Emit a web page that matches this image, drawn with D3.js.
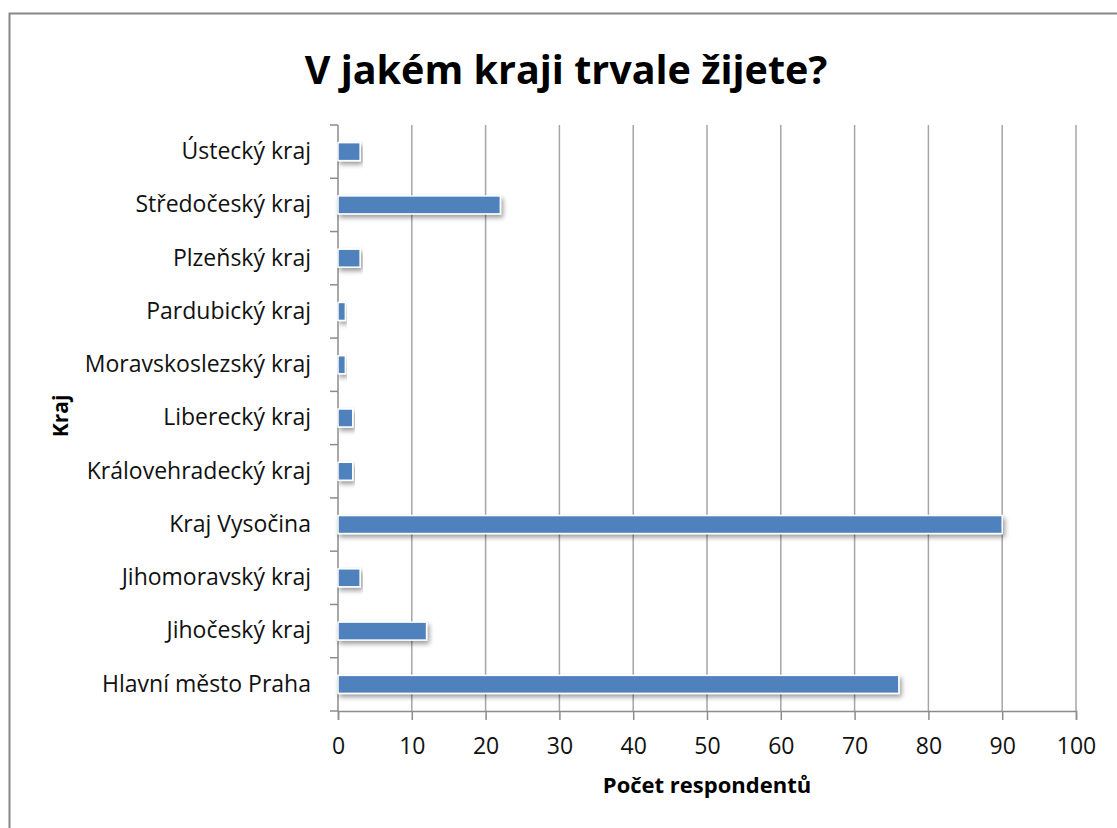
<!DOCTYPE html>
<html>
<head>
<meta charset="utf-8">
<script src="https://cdn.jsdelivr.net/npm/d3@7"></script>
<style>
  body { margin: 0; background: #fff; }
  svg text { font-family: "Open Sans", Lato, sans-serif; }
</style>
</head>
<body>
<svg width="1117" height="828"></svg>
<script>
// data, bottom to top as in the chart
var regions = ["Hlavní město Praha", "Jihočeský kraj", "Jihomoravský kraj", "Kraj Vysočina",
  "Královehradecký kraj", "Liberecký kraj", "Moravskoslezský kraj", "Pardubický kraj",
  "Plzeňský kraj", "Středočeský kraj", "Ústecký kraj"];
var counts = [76, 12, 3, 90, 2, 2, 1, 1, 3, 22, 3];
var xTicks = [0, 10, 20, 30, 40, 50, 60, 70, 80, 90, 100];

var svg = d3.select("svg"),
  width = +svg.attr("width"),
  height = +svg.attr("height");

// plot area
var pLeft = 338, pRight = 1076, pTop = 125, pBottom = 711;

var defs = svg.append("defs");
var f = defs.append("filter").attr("id", "shadow")
  .attr("x", "-5%").attr("y", "-30%").attr("width", "115%").attr("height", "190%");
f.append("feGaussianBlur").attr("in", "SourceAlpha").attr("stdDeviation", 2.5);
f.append("feOffset").attr("dx", 2).attr("dy", 3).attr("result", "b");
f.append("feComponentTransfer").append("feFuncA").attr("type", "linear").attr("slope", 0.4);
var m = f.append("feMerge");
m.append("feMergeNode");
m.append("feMergeNode").attr("in", "SourceGraphic");

// outer frame
svg.append("rect")
  .attr("x", 9.5).attr("y", 13.5)
  .attr("width", 1200).attr("height", 900)
  .attr("fill", "none").attr("stroke", "#888").attr("stroke-width", 2);

var x = d3.scaleLinear().domain([0, 100]).range([pLeft, pRight]);
var y = d3.scaleBand().domain(regions.slice().reverse()).range([pTop, pBottom]);

// gridlines
svg.append("g")
  .selectAll("line")
  .data(xTicks.slice(1))
  .enter().append("line")
  .attr("x1", function(d) { return x(d); })
  .attr("x2", function(d) { return x(d); })
  .attr("y1", pTop).attr("y2", pBottom)
  .attr("stroke", "#a6a6a6").attr("stroke-width", 1.5);

// x axis
var xAxis = svg.append("g")
  .attr("transform", "translate(0," + pBottom + ")")
  .call(d3.axisBottom(x).tickValues(xTicks).tickSize(9).tickPadding(18));
xAxis.select(".domain").attr("stroke", "#8c8c8c").attr("stroke-width", 1.5);
xAxis.selectAll(".tick line").attr("stroke", "#8c8c8c").attr("stroke-width", 1.5);
xAxis.selectAll("text").attr("font-size", 23).attr("fill", "#111");

// y axis with ticks at category boundaries
var yAxis = svg.append("g")
  .attr("transform", "translate(" + pLeft + ",0)")
  .call(d3.axisLeft(y).tickSize(0).tickPadding(27));
yAxis.select(".domain").remove();
yAxis.selectAll("text").attr("font-size", 23).attr("fill", "#111");
svg.append("line")
  .attr("x1", pLeft).attr("x2", pLeft).attr("y1", pTop).attr("y2", pBottom)
  .attr("stroke", "#8c8c8c").attr("stroke-width", 1.5);
svg.append("g")
  .selectAll("line")
  .data(d3.range(regions.length + 1))
  .enter().append("line")
  .attr("x1", pLeft - 8).attr("x2", pLeft)
  .attr("y1", function(i) { return pTop + i * y.step(); })
  .attr("y2", function(i) { return pTop + i * y.step(); })
  .attr("stroke", "#8c8c8c").attr("stroke-width", 1.5);

// bars
var barH = 18;
svg.append("g")
  .selectAll("rect")
  .data(regions)
  .enter().append("rect")
  .attr("x", x(0))
  .attr("y", function(d) { return y(d) + y.bandwidth() / 2 - barH / 2; })
  .attr("width", function(d, i) { return x(counts[i]) - x(0); })
  .attr("height", barH)
  .attr("fill", "#4f81bd")
  .attr("stroke", "#fff").attr("stroke-width", 1.5)
  .attr("filter", "url(#shadow)");

// titles
svg.append("text")
  .attr("x", 566).attr("y", 84)
  .attr("text-anchor", "middle")
  .attr("font-size", 39.5).attr("font-weight", "bold")
  .text("V jakém kraji trvale žijete?");

svg.append("text")
  .attr("x", 707).attr("y", 793)
  .attr("text-anchor", "middle")
  .attr("font-size", 22).attr("font-weight", "bold")
  .text("Počet respondentů");

svg.append("text")
  .attr("transform", "translate(68,416) rotate(-90)")
  .attr("text-anchor", "middle")
  .attr("font-size", 21).attr("font-weight", "bold")
  .text("Kraj");
</script>
</body>
</html>
